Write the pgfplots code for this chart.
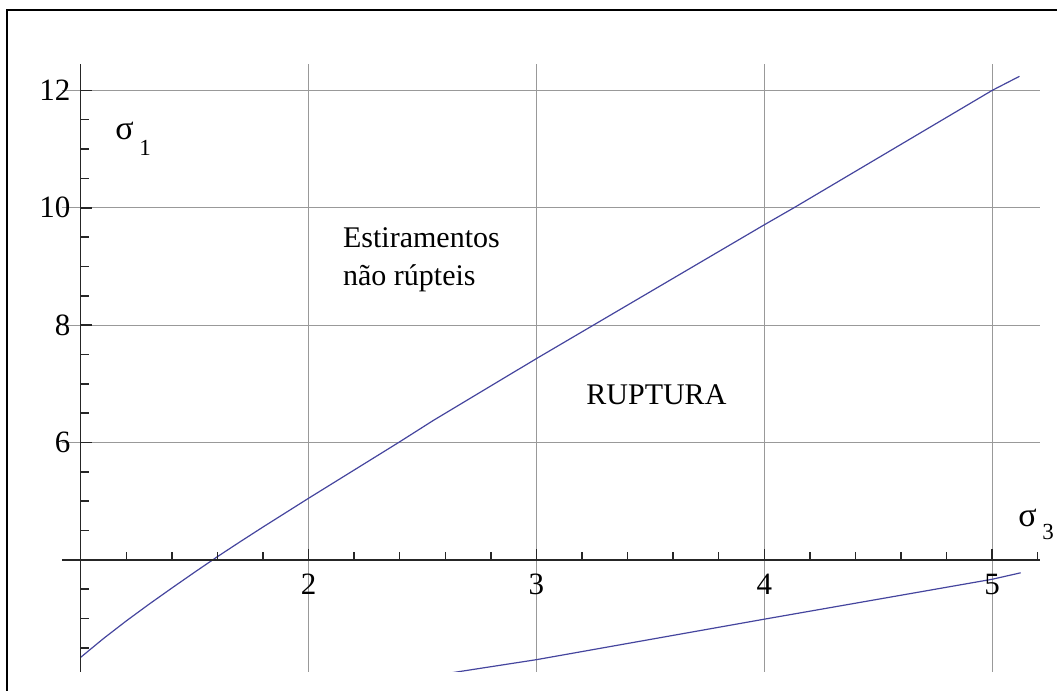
\documentclass[border=0pt]{standalone}
\usepackage{pgfplots}
\pgfplotsset{compat=1.18}
\usepackage{fontspec}
\setmainfont{Liberation Serif}
\definecolor{curveblue}{rgb}{0.27,0.27,0.62}
\definecolor{gridgray}{gray}{0.6}
\definecolor{axisdark}{gray}{0.15}

% Griffith envelope: upper and lower branch, sigma_1 against sigma_3
\pgfplotstableread{
s3     s1
1.000  2.34
1.100  2.66
1.200  2.96
1.300  3.245
1.400  3.52
1.500  3.79
1.600  4.055
1.700  4.31
1.800  4.56
1.900  4.805
2.000  5.05
2.395  6.00
2.549  6.38
3.000  7.43
4.000  9.71
4.130  10.00
5.000  12.00
5.120  12.24
}\upperbranch
\pgfplotstableread{
s3     s1
2.600  2.06
3.000  2.30
4.000  2.99
5.000  3.67
5.125  3.78
}\lowerbranch

\begin{document}
\begin{tikzpicture}
\useasboundingbox (0pt,0pt) rectangle (528.5pt,345.5pt);
% outer frame
\draw[line width=1.1pt] (3.35pt,0pt) -- (3.35pt,340.5pt) -- (528.5pt,340.5pt);

\begin{axis}[
  at={(31pt,9.5pt)}, anchor=south west,
  scale only axis, width=489pt, height=304pt,
  xmin=0.918, xmax=5.21, ymin=2.09, ymax=12.45,
  clip mode=individual,
  axis line style={draw=none},
  tick style={draw=none},
  major tick length=0pt,
  xtick={2,3,4,5}, ytick={6,8,10,12},
  xticklabels={}, yticklabels={},
  xmajorgrids, ymajorgrids,
  grid style={gridgray, line width=0.65pt},
]
\addplot[curveblue, line width=0.6pt, no marks] table[x=s3,y=s1] {\upperbranch};
\addplot[curveblue, line width=0.6pt, no marks] table[x=s3,y=s1] {\lowerbranch};

% axes through (1,4)
\draw[axisdark, line width=0.75pt] (axis cs:0.918,4) -- (axis cs:5.21,4);
\draw[axisdark, line width=0.75pt] (axis cs:1,2.09) -- (axis cs:1,12.45);
% x ticks
\pgfplotsinvokeforeach{2,3,4,5}{
  \draw[axisdark, line width=0.75pt] (axis cs:#1,4) -- ([yshift=5.5pt]axis cs:#1,4);
  \node[anchor=north, inner sep=0pt, font=\fontsize{15.5}{18}\selectfont] at ([yshift=-7pt]axis cs:#1,4) {#1};
}
\pgfplotsinvokeforeach{1.2,1.4,1.6,1.8,2.2,2.4,2.6,2.8,3.2,3.4,3.6,3.8,4.2,4.4,4.6,4.8,5.2}{
  \draw[axisdark, line width=0.75pt] (axis cs:#1,4) -- ([yshift=4pt]axis cs:#1,4);
}
% y ticks
\pgfplotsinvokeforeach{6,8,10,12}{
  \draw[axisdark, line width=0.75pt] (axis cs:1,#1) -- ([xshift=5.5pt]axis cs:1,#1);
  \node[anchor=east, inner sep=0pt, font=\fontsize{15.5}{18}\selectfont] at ([xshift=-5pt]axis cs:1,#1) {#1};
}
\pgfplotsinvokeforeach{2.5,3,3.5,4.5,5,5.5,6.5,7,7.5,8.5,9,9.5,10.5,11,11.5}{
  \draw[axisdark, line width=0.75pt] (axis cs:1,#1) -- ([xshift=4pt]axis cs:1,#1);
}
\end{axis}

% axis names
\node[anchor=base west, inner sep=0pt, font=\fontsize{17}{20}\selectfont] at (57.5pt,275.5pt) {σ};
\node[anchor=base west, inner sep=0pt, font=\fontsize{11.5}{14}\selectfont] at (69.5pt,267.5pt) {1};
\node[anchor=base west, inner sep=0pt, font=\fontsize{17}{20}\selectfont] at (509pt,82pt) {σ};
\node[anchor=base west, inner sep=0pt, font=\fontsize{11.5}{14}\selectfont] at (521pt,75.5pt) {3};

% region labels
\node[anchor=base west, inner sep=0pt, font=\fontsize{15}{18}\selectfont] at (171.35pt,221.5pt) {Estiramentos};
\node[anchor=base west, inner sep=0pt, font=\fontsize{15}{18}\selectfont] at (171.35pt,202.5pt) {não rúpteis};
\node[anchor=base west, inner sep=0pt, font=\fontsize{15}{18}\selectfont] at (293pt,143pt) {RUPTURA};
\end{tikzpicture}
\end{document}
